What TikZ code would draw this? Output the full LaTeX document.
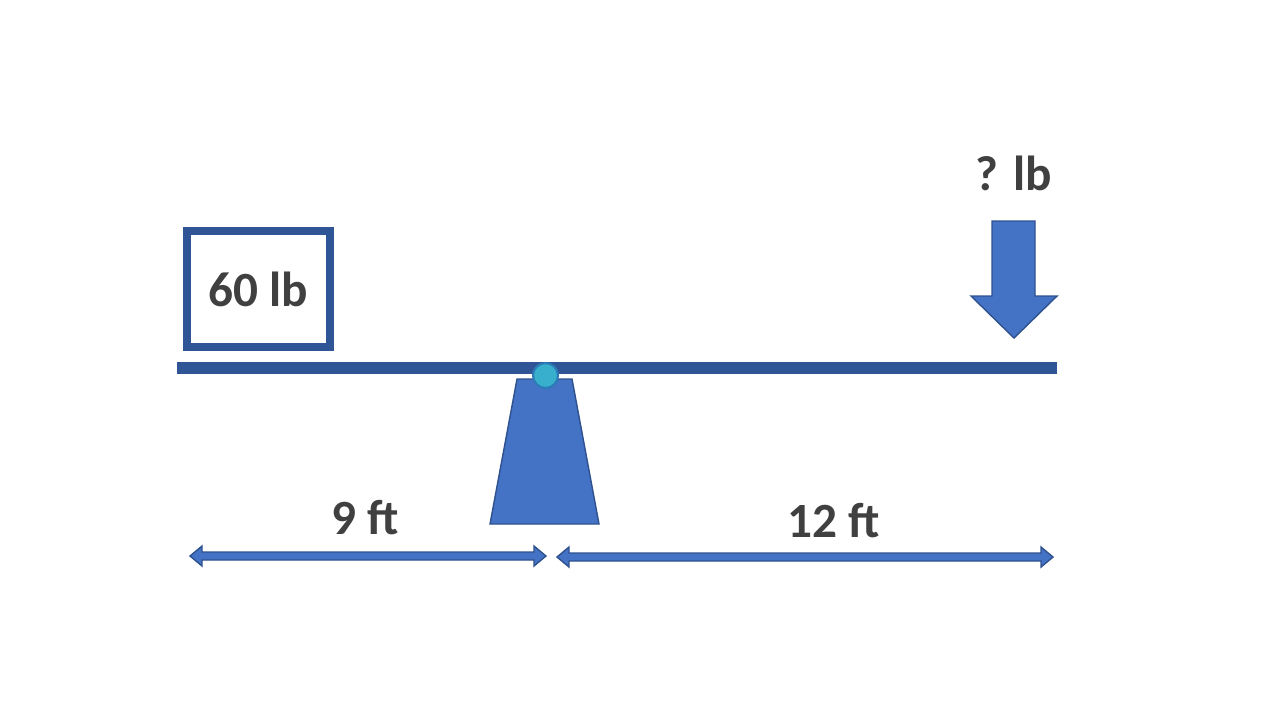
\documentclass[tikz,border=0pt]{standalone}
\usepackage{fontspec}
\setmainfont{Carlito}
\definecolor{beamblue}{HTML}{2F5597}
\definecolor{fillblue}{HTML}{4472C4}
\definecolor{edgeblue}{HTML}{2F528F}
\definecolor{pivotcyan}{HTML}{38AFCC}
\definecolor{pivotedge}{HTML}{2A7BB8}
\definecolor{textgrey}{HTML}{404040}

% block arrow with two heads: left tip, right tip, height
\newcommand{\spanarrow}[3]{%
  \draw[block] (#1,#3) -- (#1+12,#3-10) -- (#1+12,#3-4) -- (#2-12,#3-4)
    -- (#2-12,#3-10) -- (#2,#3) -- (#2-12,#3+10) -- (#2-12,#3+4)
    -- (#1+12,#3+4) -- (#1+12,#3+10) -- cycle;}

\begin{document}
\begin{tikzpicture}[x=0.01cm, y=-0.01cm,
    lbl/.style={text=textgrey, font=\fontsize{14}{17}\selectfont\bfseries, inner sep=0pt},
    block/.style={fill=fillblue, draw=edgeblue, line width=0.4pt}]
    \useasboundingbox (0,0) rectangle (1280,720);
    % lever and support
    \fill[beamblue] (177,362) rectangle (1057,374);
    \draw[block] (517,379) -- (572,379) -- (599,524) -- (490,524) -- cycle;
    \node[circle, fill=pivotcyan, draw=pivotedge, line width=0.6pt, minimum size=0.25cm, inner sep=0pt] (pivot) at (545.5,375.5) {};
    % loads
    \node[lbl, draw=beamblue, line width=0.08cm, minimum width=1.43cm, minimum height=1.15cm] (load) at (258.5,289) {60 lb};
    \node[lbl] (force) at (1014,173) {? lb};
    \draw[block] (992,221) -- (1035,221) -- (1035,296) -- (1057,296) -- (1014,338) -- (971,296) -- (992,296) -- cycle;
    % distances
    \node[lbl] (leftlen) at (365,518) {9 ft};
    \node[lbl] (rightlen) at (834,521) {12 ft};
    \spanarrow{190}{546}{556}
    \spanarrow{557}{1053}{557}
\end{tikzpicture}
\end{document}
